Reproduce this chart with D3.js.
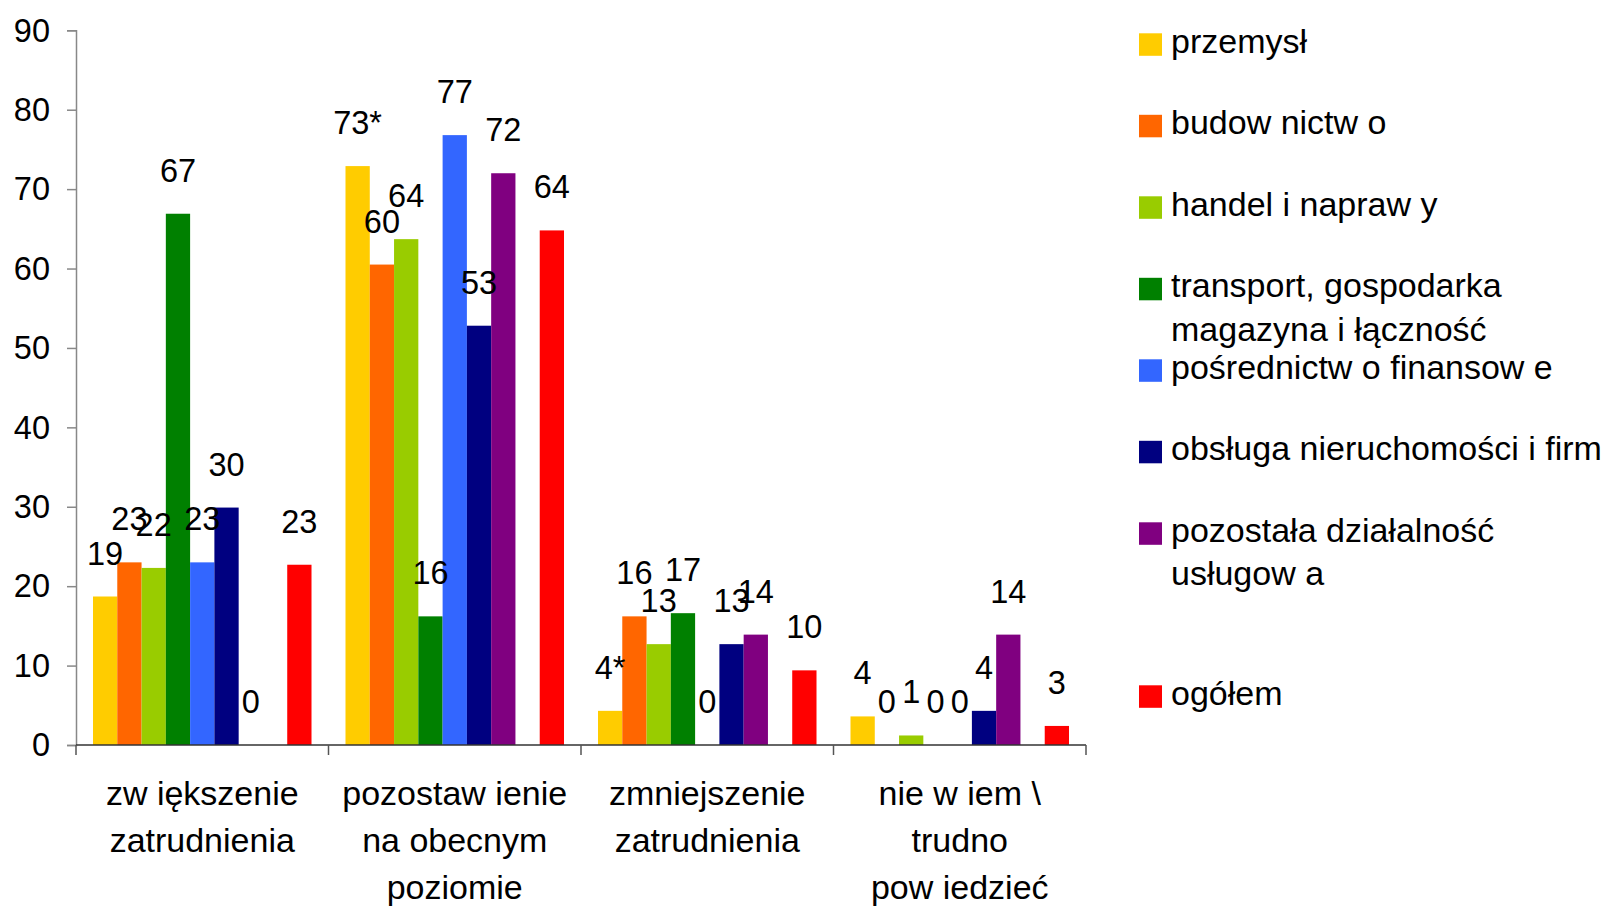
<!DOCTYPE html>
<meta charset="utf-8">
<head>
  <title>Zatrudnienie</title>
  <script src="https://d3js.org/d3.v7.min.js"></script>
  <style>
    body { margin: 0; background: #fff; }
    svg text { font-family: "Liberation Sans", Arial, sans-serif; fill: #000; }
    .num { font-size: 32.5px; }
    .txt { font-size: 34px; }
  </style>
</head>
<body>
<script>
  // categories (lines of each x label)
  var categories = [
    ["zw iększenie", "zatrudnienia"],
    ["pozostaw ienie", "na obecnym", "poziomie"],
    ["zmniejszenie", "zatrudnienia"],
    ["nie w iem \\", "trudno", "pow iedzieć"]
  ];

  // series names as they appear in the legend (one empty series)
  var seriesNames = [
    ["przemysł"],
    ["budow nictw o"],
    ["handel i napraw y"],
    ["transport, gospodarka", "magazyna i łączność"],
    ["pośrednictw o finansow e"],
    ["obsługa nieruchomości i firm"],
    ["pozostała działalność", "usługow a"],
    [],
    ["ogółem"]
  ];
  var seriesColors = ["#FFCC00", "#FF6600", "#99CC00", "#008000", "#3366FF", "#000080", "#800080", "none", "#FF0000"];

  // values per series, one per category
  var przemysl     = [18.7, 72.9, 4.3, 3.6];
  var budownictwo  = [23.0, 60.5, 16.2, 0];
  var handel       = [22.3, 63.7, 12.7, 1.2];
  var transport    = [66.9, 16.2, 16.6, 0];
  var posrednictwo = [23.0, 76.8, 0, 0];
  var obsluga      = [29.9, 52.8, 12.7, 4.3];
  var pozostala    = [0, 72.0, 13.9, 13.9];
  var pusta        = [null, null, null, null];
  var ogolem       = [22.7, 64.8, 9.4, 2.4];

  // printed data labels
  var przemyslLbl     = ["19", "73*", "4*", "4"];
  var budownictwoLbl  = ["23", "60", "16", "0"];
  var handelLbl       = ["22", "64", "13", "1"];
  var transportLbl    = ["67", "16", "17", "0"];
  var posrednictwoLbl = ["23", "77", "0", "0"];
  var obslugaLbl      = ["30", "53", "13", "4"];
  var pozostalaLbl    = ["0", "72", "14", "14"];
  var pustaLbl        = [null, null, null, null];
  var ogolemLbl       = ["23", "64", "10", "3"];

  var yTicks = [0, 10, 20, 30, 40, 50, 60, 70, 80, 90];

  var values = [przemysl, budownictwo, handel, transport, posrednictwo, obsluga, pozostala, pusta, ogolem];
  var labels = [przemyslLbl, budownictwoLbl, handelLbl, transportLbl, posrednictwoLbl, obslugaLbl, pozostalaLbl, pustaLbl, ogolemLbl];

  var width = 1613, height = 906;
  var svg = d3.select("body").append("svg")
    .attr("width", width)
    .attr("height", height);

  var catIdx = d3.range(categories.length);
  var serIdx = d3.range(seriesNames.length);

  var x0 = d3.scaleBand().domain(catIdx).range([76, 1086]).padding(0);
  var x1 = d3.scaleBand().domain(serIdx).range([0, x0.bandwidth()]).paddingInner(0).paddingOuter(0.7);
  var y = d3.scaleLinear().domain([0, 90]).range([745, 30.3]);

  // bars
  var rows = [];
  catIdx.forEach(function(c) {
    serIdx.forEach(function(s) {
      if (values[s][c] !== null) rows.push({c: c, s: s, v: values[s][c], l: labels[s][c]});
    });
  });

  svg.append("g").selectAll("rect")
    .data(rows.filter(function(d) { return d.v > 0; }))
    .enter().append("rect")
    .attr("x", function(d) { return x0(d.c) + x1(d.s); })
    .attr("y", function(d) { return y(d.v); })
    .attr("width", x1.bandwidth())
    .attr("height", function(d) { return y(0) - y(d.v); })
    .attr("fill", function(d) { return seriesColors[d.s]; });

  // y axis
  var yAxis = d3.axisLeft(y).tickValues(yTicks).tickSize(9).tickPadding(17);
  var gy = svg.append("g").attr("transform", "translate(76,0)").call(yAxis);
  gy.select(".domain").attr("stroke", "#888").attr("stroke-width", 1.5);
  gy.selectAll(".tick line").attr("stroke", "#888").attr("stroke-width", 1.5);
  gy.selectAll(".tick text").attr("class", "num").attr("font-size", null).attr("font-family", null)
    .attr("dy", "0.33em");

  // x axis: baseline and separators between groups
  svg.append("line")
    .attr("x1", 76).attr("x2", 1086)
    .attr("y1", y(0)).attr("y2", y(0))
    .attr("stroke", "#333").attr("stroke-width", 1.5);
  var seps = catIdx.map(function(c) { return x0(c); }).concat([x0.range()[1]]);
  svg.append("g").selectAll("line")
    .data(seps)
    .enter().append("line")
    .attr("x1", function(d) { return d; }).attr("x2", function(d) { return d; })
    .attr("y1", y(0)).attr("y2", y(0) + 10)
    .attr("stroke", "#555").attr("stroke-width", 1.5);

  // category labels
  var catLabels = svg.append("g").selectAll("text")
    .data(catIdx)
    .enter().append("text")
    .attr("class", "txt")
    .attr("text-anchor", "middle")
    .attr("x", function(c) { return x0(c) + x0.bandwidth() / 2; })
    .attr("y", 805);
  catLabels.selectAll("tspan")
    .data(function(c) { return categories[c].map(function(t) { return {t: t, c: c}; }); })
    .enter().append("tspan")
    .attr("x", function(d) { return x0(d.c) + x0.bandwidth() / 2; })
    .attr("dy", function(d, i) { return i === 0 ? 0 : 47; })
    .text(function(d) { return d.t; });

  // data labels
  svg.append("g").selectAll("text")
    .data(rows)
    .enter().append("text")
    .attr("class", "num")
    .attr("text-anchor", "middle")
    .attr("x", function(d) { return x0(d.c) + x1(d.s) + x1.bandwidth() / 2; })
    .attr("y", function(d) { return y(d.v) - 32; })
    .text(function(d) { return d.l; });

  // legend
  var ly = d3.scaleLinear().domain([0, seriesNames.length - 1]).range([33.3, 685.3]);
  var leg = svg.append("g").selectAll("g")
    .data(serIdx.filter(function(s) { return seriesNames[s].length > 0; }))
    .enter().append("g")
    .attr("transform", function(s) { return "translate(1139," + ly(s) + ")"; });
  leg.append("rect")
    .attr("width", 23).attr("height", 22.5)
    .attr("fill", function(s) { return seriesColors[s]; });
  leg.append("text")
    .attr("class", "txt")
    .attr("x", 32).attr("y", 19.5)
    .selectAll("tspan")
    .data(function(s) { return seriesNames[s]; })
    .enter().append("tspan")
    .attr("x", 32)
    .attr("dy", function(d, i) { return i === 0 ? 0 : 43.5; })
    .text(function(d) { return d; });
</script>
</body>
